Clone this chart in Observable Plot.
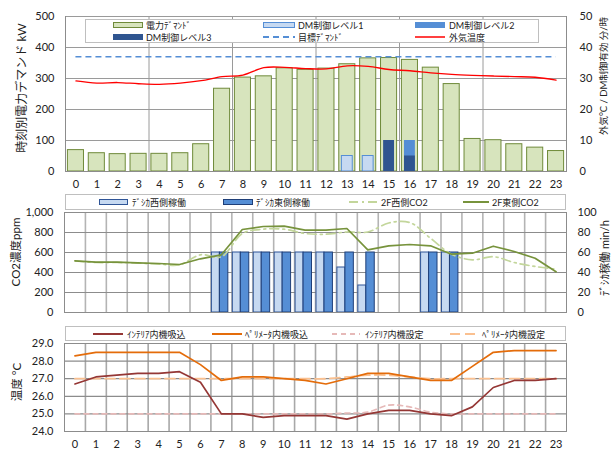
<!DOCTYPE html>
<html><head><meta charset="utf-8">
<script src="https://cdn.jsdelivr.net/npm/d3@7"></script>
<script src="https://cdn.jsdelivr.net/npm/@observablehq/plot@0.6"></script>
<style>
body{margin:0;background:#fff;}
#root{position:relative;width:612px;height:450px;font-family:Lato,"Noto Sans CJK JP",sans-serif;overflow:hidden;background:#fff;color:#222;}
#root svg.plot{position:absolute;left:0;}
.legend{position:absolute;background:#fff;border:1px solid #bfbfbf;box-sizing:border-box;}
.lt{position:absolute;font-size:9px;color:#222;white-space:nowrap;transform:translateY(-50%);line-height:1;}
.sw{position:absolute;box-sizing:border-box;}
.title{position:absolute;white-space:nowrap;color:#222;transform:translate(-50%,-50%) rotate(-90deg);line-height:1;}
</style></head>
<body><div id="root"></div>
<script>
// ---------- data ----------
const hours = [0,1,2,3,4,5,6,7,8,9,10,11,12,13,14,15,16,17,18,19,20,21,22,23];
// panel 1
const demand = [69,59,56,57,57,59,88,267,303,307,333,328,332,346,365,366,360,335,282,105,101,88,77,66];
const dmLevel1 = [0,0,0,0,0,0,0,0,0,0,0,0,0,5,5,0,0,0,0,0,0,0,0,0];
const dmLevel2 = [0,0,0,0,0,0,0,0,0,0,0,0,0,0,0,0,10,0,0,0,0,0,0,0];
const dmLevel3 = [0,0,0,0,0,0,0,0,0,0,0,0,0,0,0,10,5,0,0,0,0,0,0,0];
const targetDemand = 370;
const outsideTemp = [29.2,28.5,28.7,28.3,28.1,28.5,29.3,30.6,31.1,33.5,33.6,33.2,33.1,34.1,33.9,32.9,32.5,31.8,31.3,31.0,30.8,30.6,30.4,29.5];
// panel 2
const desiccantWest = [0,0,0,0,0,0,0,60,60,60,60,60,60,45,27,0,0,60,60,0,0,0,0,0];
const desiccantEast = [0,0,0,0,0,0,0,60,60,60,60,60,60,60,60,0,0,60,60,0,0,0,0,0];
const co2West = [515,500,500,494,484,477,577,557,790,833,833,790,783,805,805,895,900,743,583,527,558,500,460,433];
const co2East = [517,503,503,497,490,480,537,577,830,860,863,823,823,840,627,667,680,667,583,593,663,610,543,407];
// panel 3
const interiorIntake = [26.7,27.1,27.2,27.3,27.3,27.4,26.8,25.0,25.0,24.8,24.9,24.9,24.9,24.7,25.0,25.2,25.2,25.0,24.9,25.4,26.5,26.9,26.9,27.0];
const perimeterIntake = [28.3,28.5,28.5,28.5,28.5,28.5,27.8,26.9,27.1,27.1,27.0,26.9,26.7,27.0,27.3,27.3,27.1,26.9,26.9,27.7,28.5,28.6,28.6,28.6];
const interiorSet = [25,25,25,25,25,25,25,25,25,25,25,25,25,25.05,25.1,25.5,25.4,25.1,25,25,25,25,25,25];
const perimeterSet = [27,27,27,27,27,27,27,27,27,27,27,27,27,27.1,27.2,27.2,27.1,27,27,27,27,27,27,27];

const leftTicks1 = [0,100,200,300,400,500];
const rightTicks1 = [0,10,20,30,40,50];
const leftTicks2 = [0,200,400,600,800,1000];
const rightTicks2 = [0,20,40,60,80,100];
const ticks3 = [24,25,26,27,28,29];

// ---------- layout ----------
const W = 612, XL = 65, XR = 566;
const FONT = 'Lato, "Noto Sans CJK JP", sans-serif';
const root = document.getElementById("root");
const style = {fontFamily: FONT, fontSize: "11px", color: "#222", background: "transparent", overflow: "visible"};

const rows = hours.map((h, i) => ({
  h, demand: demand[i], l1: dmLevel1[i], l2: dmLevel2[i], l3: dmLevel3[i], temp: outsideTemp[i],
  west: desiccantWest[i], east: desiccantEast[i], co2W: co2West[i], co2E: co2East[i],
  intI: interiorIntake[i], intP: perimeterIntake[i], setI: interiorSet[i], setP: perimeterSet[i]
}));
const bandX1 = d => d.h - 0.5, bandX2 = d => d.h + 0.5;
const boundaries = hours.slice(0, 23).map(h => h + 0.5);

// panel 1
const p1 = Plot.plot({
  width: W, height: 196, marginLeft: XL, marginRight: W - XR, marginTop: 16, marginBottom: 25,
  style,
  x: {domain: [-0.5, 23.5], axis: null},
  y: {domain: [0, 500], axis: null},
  marks: [
    Plot.gridY({ticks: leftTicks1.slice(1), stroke: "#9a9a9a", strokeOpacity: 1}),
    Plot.gridX({ticks: [3.5, 7.5, 11.5, 15.5, 19.5], stroke: "#9a9a9a", strokeOpacity: 1}),
    Plot.rectY(rows, {x1: bandX1, x2: bandX2, y: "demand", insetLeft: 2.4, insetRight: 2.4, fill: "#d7e4bd", stroke: "#6f8a3a", strokeWidth: 1}),
    Plot.rectY(rows, {filter: d => d.l1 > 0, x1: bandX1, x2: bandX2, y: d => d.l1 * 10, insetLeft: 5, insetRight: 5, fill: "#c6d9f1", stroke: "#558ed5", strokeWidth: 1}),
    Plot.rectY(rows, {filter: d => d.l2 > 0, x1: bandX1, x2: bandX2, y: d => d.l2 * 10, insetLeft: 5, insetRight: 5, fill: "#558ed5"}),
    Plot.rectY(rows, {filter: d => d.l3 > 0, x1: bandX1, x2: bandX2, y: d => d.l3 * 10, insetLeft: 5, insetRight: 5, fill: "#2f5590"}),
    Plot.ruleY([targetDemand], {x1: 0, x2: 23, stroke: "#558ed5", strokeWidth: 1.6, strokeDasharray: "6,4"}),
    Plot.line(rows, {x: "h", y: d => d.temp * 10, stroke: "#ff0000", strokeWidth: 1.3, curve: "catmull-rom"}),
    Plot.frame({stroke: "#8c8c8c", anchor: "left"}),
    Plot.frame({stroke: "#8c8c8c", anchor: "right"}),
    Plot.frame({stroke: "#8c8c8c", anchor: "bottom"}),
    Plot.axisY({ticks: leftTicks1, tickSize: 0, tickPadding: 11, label: null}),
    Plot.axisY({anchor: "right", ticks: rightTicks1.map(v => v * 10), tickFormat: d => d / 10, tickSize: 0, tickPadding: 13, label: null}),
    Plot.axisX({ticks: hours, tickSize: 0, tickPadding: 9, label: null, tickFormat: d => d})
  ]
});
p1.style.top = "0px";
root.appendChild(p1);

// panel 2
const p2 = Plot.plot({
  width: W, height: 115, marginLeft: XL - 1, marginRight: W - XR, marginTop: 12, marginBottom: 3,
  style,
  x: {domain: [-0.5, 23.5], axis: null},
  y: {domain: [0, 1000], axis: null},
  marks: [
    Plot.gridX({ticks: boundaries, stroke: "#b4b4b4", strokeOpacity: 1, strokeWidth: 1.6}),
    Plot.gridY({ticks: leftTicks2.slice(1), stroke: "#8c8c8c", strokeOpacity: 1}),
    Plot.rectY(rows, {filter: d => d.west > 0, x1: bandX1, x2: bandX2, y: d => d.west * 10, insetLeft: 1, insetRight: 12, fill: "#c6d9f1", stroke: "#2f5597", strokeWidth: 1}),
    Plot.rectY(rows, {filter: d => d.east > 0, x1: bandX1, x2: bandX2, y: d => d.east * 10, insetLeft: 9, insetRight: 3.5, fill: "#558ed5", stroke: "#1f3f78", strokeWidth: 1}),
    Plot.line(rows, {x: "h", y: "co2W", stroke: "#c3d69b", strokeWidth: 1.7, strokeDasharray: "9,4,2,4", curve: "catmull-rom"}),
    Plot.line(rows, {x: "h", y: "co2E", stroke: "#77933c", strokeWidth: 1.7}),
    Plot.frame({stroke: "#8c8c8c"}),
    Plot.axisY({ticks: leftTicks2, tickSize: 0, tickPadding: 11, label: null, tickFormat: d3.format(",")}),
    Plot.axisY({anchor: "right", ticks: rightTicks2.map(v => v * 10), tickFormat: d => d / 10, tickSize: 0, tickPadding: 11, label: null})
  ]
});
p2.style.top = "200px";
root.appendChild(p2);

// panel 3
const p3 = Plot.plot({
  width: W, height: 130, marginLeft: XL - 1, marginRight: W - XR, marginTop: 23, marginBottom: 19,
  style,
  x: {domain: [-0.5, 23.5], axis: null},
  y: {domain: [24, 29], axis: null},
  marks: [
    Plot.gridX({ticks: boundaries, stroke: "#a8a8a8", strokeOpacity: 1, strokeWidth: 1.6}),
    Plot.gridY({ticks: ticks3.slice(1), stroke: "#8c8c8c", strokeOpacity: 1, strokeWidth: 1.2}),
    Plot.line(rows, {x: "h", y: "setI", stroke: "#e6b9b8", strokeWidth: 1.6, strokeDasharray: "5,4", curve: "catmull-rom"}),
    Plot.line(rows, {x: "h", y: "setP", stroke: "#fac090", strokeWidth: 1.8, strokeDasharray: "10,5", curve: "catmull-rom"}),
    Plot.line(rows, {x: "h", y: "intP", stroke: "#e46c0a", strokeWidth: 1.7}),
    Plot.line(rows, {x: "h", y: "intI", stroke: "#953735", strokeWidth: 1.7}),
    Plot.frame({stroke: "#8c8c8c"}),
    Plot.axisY({ticks: ticks3, tickSize: 0, tickPadding: 11, label: null, tickFormat: d => d.toFixed(1)}),
    Plot.axisX({ticks: hours, tickSize: 0, tickPadding: 9, label: null, tickFormat: d => d})
  ]
});
p3.style.top = "320px";
root.appendChild(p3);
[p1, p2, p3].forEach(s => s.classList.add("plot"));

// ---------- legends & titles ----------
function el(tag, cls, css, txt) {
  const e = document.createElement(tag);
  if (cls) e.className = cls;
  Object.assign(e.style, css);
  if (txt != null) e.textContent = txt;
  root.appendChild(e);
  return e;
}
function box(x1, y1, x2, y2) { el("div", "legend", {left: x1 + "px", top: y1 + "px", width: (x2 - x1) + "px", height: (y2 - y1) + "px"}); }
function rectSw(x1, x2, yc, fill, stroke) {
  el("div", "sw", {left: x1 + "px", top: (yc - 3) + "px", width: (x2 - x1) + "px", height: "6px", background: fill, border: stroke ? "1px solid " + stroke : "none"});
}
function lineSw(x1, x2, yc, stroke, dash, w) {
  const ns = "http://www.w3.org/2000/svg";
  const s = document.createElementNS(ns, "svg");
  s.setAttribute("width", x2 - x1); s.setAttribute("height", 6);
  Object.assign(s.style, {position: "absolute", left: x1 + "px", top: (yc - 3) + "px"});
  const l = document.createElementNS(ns, "line");
  l.setAttribute("x1", 0); l.setAttribute("x2", x2 - x1); l.setAttribute("y1", 3); l.setAttribute("y2", 3);
  l.setAttribute("stroke", stroke); l.setAttribute("stroke-width", w || 2);
  if (dash) l.setAttribute("stroke-dasharray", dash);
  s.appendChild(l); root.appendChild(s);
}
function text(x, yc, t) { el("div", "lt", {left: x + "px", top: yc + "px"}, t); }
function title(x, yc, t, size) { el("div", "title", {left: x + "px", top: yc + "px", fontSize: size + "px"}, t); }

// panel 1 legend
box(85, 19, 539, 43);
rectSw(113, 143, 25, "#d7e4bd", "#6f8a3a"); text(146, 25, "電力ﾃﾞﾏﾝﾄﾞ");
rectSw(263, 295, 25, "#c6d9f1", "#558ed5"); text(298, 25, "DM制御レベル1");
rectSw(415, 445, 25, "#558ed5"); text(449, 25, "DM制御レベル2");
rectSw(113, 143, 37, "#2f5590"); text(146, 37, "DM制御レベル3");
lineSw(263, 295, 37, "#558ed5", "6,4", 2); text(298, 37, "目標ﾃﾞﾏﾝﾄﾞ");
lineSw(415, 445, 37, "#ff0000", null, 1.5); text(449, 37, "外気温度");

// panel 2 legend
box(65, 194, 566, 210);
rectSw(99, 128, 202, "#c6d9f1", "#2f5597"); text(132, 202, "ﾃﾞｼｶ西側稼働");
rectSw(223, 253, 202, "#558ed5", "#1f3f78"); text(256, 202, "ﾃﾞｼｶ東側稼働");
lineSw(349, 378, 202, "#c3d69b", "9,4,2,4", 2); text(381, 202, "2F西側CO2");
lineSw(463, 489, 202, "#77933c", null, 2); text(492, 202, "2F東側CO2");

// panel 3 legend
box(65, 326, 566, 341);
lineSw(93, 123, 333.5, "#953735", null, 2); text(127, 333.5, "ｲﾝﾃﾘｱ内機吸込");
lineSw(212, 242, 333.5, "#e46c0a", null, 2); text(245, 333.5, "ﾍﾟﾘﾒｰﾀ内機吸込");
lineSw(332, 360, 333.5, "#e6b9b8", "5,4", 2); text(365, 333.5, "ｲﾝﾃﾘｱ内機設定");
lineSw(450, 477, 333.5, "#fac090", "10,5", 2); text(482, 333.5, "ﾍﾟﾘﾒｰﾀ内機設定");

// axis titles
title(22, 88, "時刻別電力デマンド kW", 12);
title(604, 76, "外気°C / DM制御有効 分/時", 9.5);
title(16, 252, "CO2濃度ppm", 11.5);
title(604, 258, "ﾃﾞｼｶ稼働 min/h", 11);
title(17, 382, "温度 °C", 11.5);
</script>
</body></html>
